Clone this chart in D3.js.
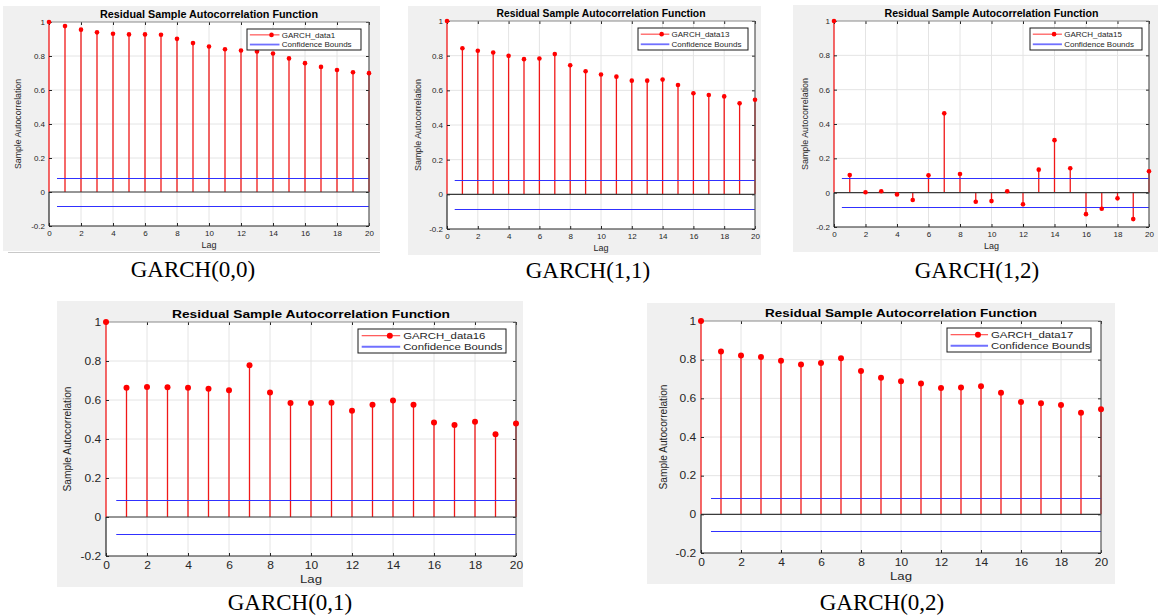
<!DOCTYPE html>
<html lang="en">
<head>
<meta charset="UTF-8">
<title>Residual Sample Autocorrelation Function</title>
<script src="https://d3js.org/d3.v7.min.js"></script>
<style>
  body { margin: 0; background: #fff; }
  svg { display: block; }
  .axis text { fill: #262626; font-family: "Liberation Sans", Arial, sans-serif; }
  .axis line { stroke: #262626; }
  .grid line { stroke: #e4e4e4; stroke-width: 1; }
  .title { font-family: "Liberation Sans", Arial, sans-serif; font-weight: bold; fill: #000; }
  .label { font-family: "Liberation Sans", Arial, sans-serif; fill: #262626; }
  .caption { font-family: "Liberation Serif", "Times New Roman", serif; fill: #000; }
</style>
</head>
<body>
<svg width="1158" height="616"></svg>
<script>
  // lags and sample autocorrelations
  const lags = [0, 1, 2, 3, 4, 5, 6, 7, 8, 9, 10, 11, 12, 13, 14, 15, 16, 17, 18, 19, 20];
  const data1  = [1, 0.976, 0.955, 0.939, 0.931, 0.927, 0.927, 0.925, 0.901, 0.876, 0.856, 0.840, 0.832, 0.827, 0.815, 0.786, 0.758, 0.736, 0.718, 0.704, 0.699];
  const data13 = [1, 0.843, 0.828, 0.818, 0.799, 0.780, 0.784, 0.809, 0.745, 0.710, 0.691, 0.679, 0.656, 0.656, 0.662, 0.631, 0.583, 0.573, 0.565, 0.525, 0.546];
  const data15 = [1, 0.103, 0.002, 0.008, -0.010, -0.043, 0.101, 0.462, 0.109, -0.053, -0.049, 0.008, -0.068, 0.134, 0.306, 0.142, -0.125, -0.094, -0.033, -0.154, 0.125];
  const data16 = [1, 0.663, 0.667, 0.665, 0.663, 0.658, 0.650, 0.778, 0.638, 0.585, 0.585, 0.586, 0.545, 0.576, 0.597, 0.576, 0.484, 0.472, 0.489, 0.424, 0.479];
  const data17 = [1, 0.842, 0.821, 0.814, 0.794, 0.775, 0.783, 0.807, 0.742, 0.706, 0.689, 0.677, 0.653, 0.656, 0.663, 0.629, 0.581, 0.574, 0.565, 0.525, 0.544];
  const bound = 0.085;   // confidence bounds +/-
  const boundStart = 0.5;
  const xTicks = [0, 2, 4, 6, 8, 10, 12, 14, 16, 18, 20];
  const yTicks = [-0.2, 0, 0.2, 0.4, 0.6, 0.8, 1];
  const xDomain = [0, 20];
  const yDomain = [-0.2, 1];

  const svg = d3.select("svg");

  // each picture: background, axes area, text sizes (bottom ones are stretched sideways)
  const panels = [
    { name: "GARCH_data1", values: data1, caption: "GARCH(0,0)",
      bg: [3, 6, 377, 245], plot: [49, 22, 369, 226], fs: 8, sx: 1, padX: 4, r: 2.3,
      titleW: 218, titleFs: 10, ylabW: 90, ylabFs: 9.5, ylabX: 18, lagDy: 22,
      legend: [247, 29, 114, 21], legFs: 8, capX: 193, capY: 277 },
    { name: "GARCH_data13", values: data13, caption: "GARCH(1,1)",
      bg: [408, 6, 353, 249], plot: [447, 21, 755, 229], fs: 8, sx: 1, padX: 4, r: 2.3,
      titleW: 209, titleFs: 10, ylabW: 92, ylabFs: 9.5, ylabX: 418, lagDy: 22,
      legend: [638, 28, 110, 22], legFs: 8, capX: 588, capY: 278 },
    { name: "GARCH_data15", values: data15, caption: "GARCH(1,2)",
      bg: [793, 5, 365, 247], plot: [834, 21, 1149, 227], fs: 8, sx: 1, padX: 4, r: 2.3,
      titleW: 214, titleFs: 10, ylabW: 92, ylabFs: 9.5, ylabX: 805, lagDy: 22,
      legend: [1030, 28, 112, 22], legFs: 8, capX: 977, capY: 278 },
    { name: "GARCH_data16", values: data16, caption: "GARCH(0,1)",
      bg: [57, 301, 466, 286], plot: [106, 322, 516, 556], fs: 10, sx: 1.2, padX: 6, r: 3,
      titleW: 278, titleFs: 11, ylabW: 105, ylabFs: 11.5, ylabX: 67, lagDy: 27,
      legend: [358, 329, 148, 24], legFs: 9.5, capX: 290, capY: 610 },
    { name: "GARCH_data17", values: data17, caption: "GARCH(0,2)",
      bg: [647, 303, 468, 281], plot: [701, 321, 1101, 553], fs: 10, sx: 1.2, padX: 6, r: 3,
      titleW: 272, titleFs: 11, ylabW: 105, ylabFs: 11.5, ylabX: 663, lagDy: 27,
      legend: [947, 328, 144, 24], legFs: 9.5, capX: 882, capY: 610 }
  ];

  // faint rule under the first picture
  svg.append("line")
    .attr("x1", 8).attr("x2", 380).attr("y1", 252.5).attr("y2", 252.5)
    .attr("stroke", "#c8c8c8").attr("stroke-width", 1);

  panels.forEach(p => {
    const [x0, y0, x1, y1] = p.plot;
    const x = d3.scaleLinear().domain(xDomain).range([x0, x1]);
    const y = d3.scaleLinear().domain(yDomain).range([y1, y0]);
    const g = svg.append("g");

    // figure background and white axes area
    g.append("rect")
      .attr("x", p.bg[0]).attr("y", p.bg[1])
      .attr("width", p.bg[2]).attr("height", p.bg[3])
      .attr("fill", "#f0f0f0");
    g.append("rect")
      .attr("x", x0).attr("y", y0)
      .attr("width", x1 - x0).attr("height", y1 - y0)
      .attr("fill", "#fff");

    // grid
    const grid = g.append("g").attr("class", "grid");
    grid.selectAll(".gx").data(xTicks.slice(1, -1)).join("line")
      .attr("x1", d => x(d)).attr("x2", d => x(d))
      .attr("y1", y0).attr("y2", y1);
    grid.selectAll(".gy").data(yTicks.slice(1, -1)).join("line")
      .attr("x1", x0).attr("x2", x1)
      .attr("y1", d => y(d)).attr("y2", d => y(d));

    // stems
    const pts = lags.map((l, i) => ({ lag: l, v: p.values[i] }));
    g.selectAll(".stem").data(pts).join("line")
      .attr("x1", d => x(d.lag)).attr("x2", d => x(d.lag))
      .attr("y1", y(0)).attr("y2", d => y(d.v))
      .attr("stroke", "#f01818").attr("stroke-width", 1.3);

    // confidence bounds, drawn over the stems
    g.selectAll(".cb").data([bound, -bound]).join("line")
      .attr("x1", x(boundStart)).attr("x2", x(xDomain[1]))
      .attr("y1", d => Math.round(y(d)) + 0.5).attr("y2", d => Math.round(y(d)) + 0.5)
      .attr("stroke", "#3030ff").attr("stroke-width", 1.1);

    // zero line
    g.append("line")
      .attr("x1", x0).attr("x2", x1)
      .attr("y1", y(0)).attr("y2", y(0))
      .attr("stroke", "#3a3a3a").attr("stroke-width", 1.2);

    // box with inward ticks
    const fmt = d => String(d);
    const bottom = g.append("g").attr("class", "axis")
      .attr("transform", `translate(0,${y1})`)
      .call(d3.axisBottom(x).tickValues(xTicks).tickFormat(fmt).tickSize(-3).tickPadding(p.padX));
    const top = g.append("g").attr("class", "axis")
      .attr("transform", `translate(0,${y0})`)
      .call(d3.axisTop(x).tickValues(xTicks).tickFormat("").tickSize(-3));
    const left = g.append("g").attr("class", "axis")
      .attr("transform", `translate(${x0},0)`)
      .call(d3.axisLeft(y).tickValues(yTicks).tickFormat(fmt).tickSize(-3).tickPadding(4));
    const right = g.append("g").attr("class", "axis")
      .attr("transform", `translate(${x1},0)`)
      .call(d3.axisRight(y).tickValues(yTicks).tickFormat("").tickSize(-3));
    [bottom, top, left, right].forEach(a => a.select(".domain").remove());
    [bottom, left].forEach(a => a.selectAll("text")
      .attr("font-size", p.fs)
      .attr("transform", `scale(${p.sx},1)`));

    g.append("line").attr("x1", x0).attr("x2", x1).attr("y1", y0).attr("y2", y0)
      .attr("stroke", "#8a8a8a").attr("stroke-width", 1.2);
    g.append("line").attr("x1", x1).attr("x2", x1).attr("y1", y0).attr("y2", y1)
      .attr("stroke", "#555").attr("stroke-width", 1.2);
    g.append("line").attr("x1", x0).attr("x2", x1).attr("y1", y1).attr("y2", y1)
      .attr("stroke", "#262626").attr("stroke-width", 1.2);

    g.selectAll(".stem2").data(pts.slice(0, 1)).join("line")
      .attr("x1", d => x(d.lag)).attr("x2", d => x(d.lag))
      .attr("y1", y(yDomain[0])).attr("y2", y(0))
      .attr("stroke", "#262626").attr("stroke-width", 1.2);

    g.selectAll(".dot").data(pts).join("circle")
      .attr("cx", d => x(d.lag)).attr("cy", d => y(d.v))
      .attr("r", p.r).attr("fill", "#ff0000");

    // title and axis labels
    g.append("text").attr("class", "title")
      .attr("x", (x0 + x1) / 2).attr("y", y0 - 4)
      .attr("text-anchor", "middle")
      .attr("font-size", p.titleFs)
      .attr("textLength", p.titleW).attr("lengthAdjust", "spacingAndGlyphs")
      .text("Residual Sample Autocorrelation Function");

    g.append("text").attr("class", "label")
      .attr("transform", `translate(${(x0 + x1) / 2},${y1 + p.lagDy}) scale(${p.sx},1)`)
      .attr("text-anchor", "middle")
      .attr("font-size", p.fs + 1)
      .text("Lag");

    g.append("text").attr("class", "label")
      .attr("transform", `translate(${p.ylabX},${(y0 + y1) / 2}) rotate(-90)`)
      .attr("text-anchor", "middle").attr("dy", "0.35em")
      .attr("font-size", p.ylabFs)
      .attr("textLength", p.ylabW).attr("lengthAdjust", "spacingAndGlyphs")
      .text("Sample Autocorrelation");

    // legend
    const [lx, ly, lw, lh] = p.legend;
    const leg = g.append("g");
    leg.append("rect")
      .attr("x", lx).attr("y", ly).attr("width", lw).attr("height", lh)
      .attr("fill", "#fff").attr("stroke", "#1a1a1a").attr("stroke-width", 1);
    const rows = [
      { label: p.name, color: "#ff3030", w: 1, marker: true },
      { label: "Confidence Bounds", color: "#7070ff", w: 1.8, marker: false }
    ];
    rows.forEach((row, i) => {
      const ry = ly + lh * (i === 0 ? 0.28 : 0.74);
      leg.append("line")
        .attr("x1", lx + lw * 0.025).attr("x2", lx + lw * 0.285)
        .attr("y1", ry).attr("y2", ry)
        .attr("stroke", row.color).attr("stroke-width", row.w);
      if (row.marker) {
        leg.append("circle")
          .attr("cx", lx + lw * 0.215).attr("cy", ry)
          .attr("r", p.r).attr("fill", "#ff0000");
      }
      leg.append("text").attr("class", "label")
        .attr("transform", `translate(${lx + lw * 0.305},${ry}) scale(${p.sx},1)`)
        .attr("dy", "0.35em")
        .attr("font-size", p.legFs)
        .text(row.label);
    });

    // caption under the picture
    svg.append("text").attr("class", "caption")
      .attr("x", p.capX).attr("y", p.capY)
      .attr("text-anchor", "middle")
      .attr("font-size", 23)
      .text(p.caption);
  });
</script>
</body>
</html>
